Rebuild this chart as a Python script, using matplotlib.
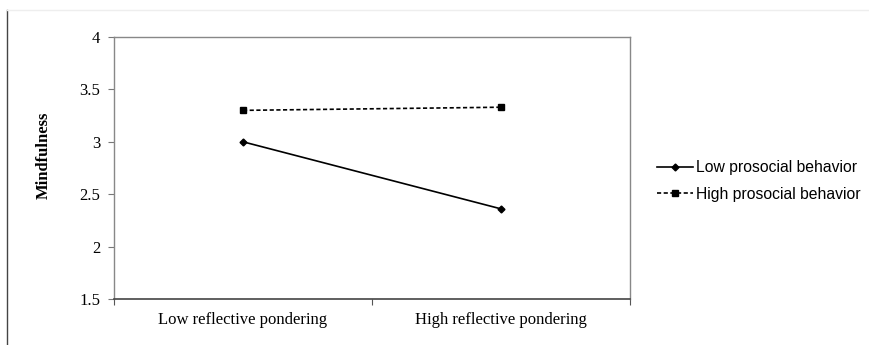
import matplotlib
matplotlib.use("Agg")
import matplotlib.pyplot as plt
from matplotlib.lines import Line2D

categories = ["Low reflective pondering", "High reflective pondering"]
low_prosocial = [3.00, 2.36]
high_prosocial = [3.30, 3.33]
series_names = ["Low prosocial behavior", "High prosocial behavior"]

fig = plt.figure(figsize=(8.69, 3.45), dpi=100)
W, H = 869, 345
ax = fig.add_axes([114 / W, 1 - 299 / H, (630 - 114) / W, (299 - 37) / H])

xpos = [0.5, 1.5]
ax.plot(xpos, low_prosocial, color="black", lw=1.2, marker="D", ms=3.5,
        label=series_names[0])
ax.plot(xpos, high_prosocial, color="black", lw=1.2, ls=(0, (2.5, 1.5)),
        marker="s", ms=5, label=series_names[1])

ax.set_xlim(0, 2)
ax.set_ylim(1.5, 4)
ax.set_yticks([1.5, 2, 2.5, 3, 3.5, 4])
ax.set_yticklabels(["1.5", "2", "2.5", "3", "3.5", "4"],
                   family="Liberation Serif", fontsize=12)
ax.set_xticks([0, 1, 2])
ax.set_xticklabels([])
ax.set_xticks(xpos, minor=True)
ax.set_xticklabels(categories, minor=True, family="Liberation Serif", fontsize=12)
ax.tick_params(axis="x", which="minor", length=0, pad=9)
ax.tick_params(axis="x", which="major", length=4, direction="out", color="#555555")
ax.tick_params(axis="y", length=4, direction="out", color="#777777", pad=6)

for side in ["left", "top", "right"]:
    ax.spines[side].set_color("#888888")
    ax.spines[side].set_linewidth(1.0)
ax.spines["bottom"].set_color("#444444")
ax.spines["bottom"].set_linewidth(1.2)

ax.set_ylabel("Mindfulness", family="Liberation Serif", fontweight="bold",
              fontsize=12)
ax.yaxis.set_label_coords((52 - 114) / (630 - 114), (299 - 155) / (299 - 37))

fig.legend(loc="center left", bbox_to_anchor=(643 / W, 1 - 181 / H),
           frameon=False, prop={"family": "Liberation Sans", "size": 11.3},
           handlelength=2.3, handletextpad=0.15, labelspacing=0.75)

# outer frame lines of the original figure
fig.add_artist(Line2D([7 / W, 7 / W], [0, 1 - 10 / H], color="#444444", lw=1.0,
                      transform=fig.transFigure))
fig.add_artist(Line2D([7 / W, 1], [1 - 10 / H, 1 - 10 / H], color="#eeeeee", lw=1.0,
                      transform=fig.transFigure))

fig.savefig("out.png", dpi=100)
